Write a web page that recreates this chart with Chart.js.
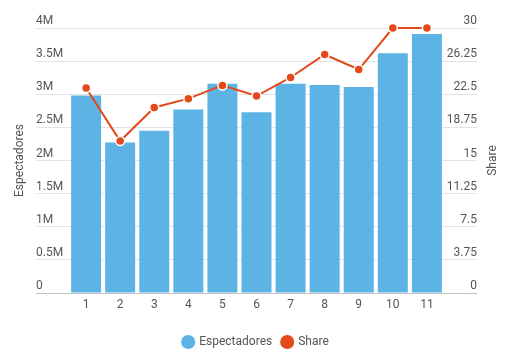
<!DOCTYPE html>
<html>
<head>
<meta charset="utf-8">
<title>Espectadores y Share</title>
<script src="https://cdn.jsdelivr.net/npm/chart.js@4.4.1/dist/chart.umd.min.js"></script>
<style>
    html, body { margin: 0; padding: 0; background: #fff; }
    #wrap { width: 512px; height: 362px; }
</style>
</head>
<body>
<div id="wrap"><canvas id="share-chart"></canvas></div>
<script>
    "use strict";

    const categories = ['1', '2', '3', '4', '5', '6', '7', '8', '9', '10', '11'];
    const viewers = [2980000, 2270000, 2450000, 2770000, 3160000, 2730000, 3160000, 3140000, 3110000, 3620000, 3910000];
    const share = [23.2, 17.2, 21.0, 22.0, 23.5, 22.3, 24.4, 27.0, 25.3, 30, 30];
    const leftTickLabels = ['0', '0.5M', '1M', '1.5M', '2M', '2.5M', '3M', '3.5M', '4M'];
    const rightTickLabels = ['0', '3.75', '7.5', '11.25', '15', '18.75', '22.5', '26.25', '30'];

    const textColor = '#555';
    const blue = '#5cb3e4';
    const red = '#e4491c';
    Chart.defaults.font.family = 'Roboto, sans-serif';
    Chart.defaults.font.size = 12;
    Chart.defaults.color = textColor;

    // x is a linear scale so the grid can run wider than the bars
    const points = (values) => values.map((v, i) => ({ x: i + 1, y: v }));

    const rightTitle = {
        id: 'rightTitle',
        afterDraw: function(chart) {
            const ctx = chart.ctx;
            const area = chart.chartArea;
            ctx.save();
            ctx.translate(493, (area.top + area.bottom) / 2);
            ctx.rotate(-Math.PI / 2);
            ctx.font = '12px Roboto, sans-serif';
            ctx.fillStyle = textColor;
            ctx.textAlign = 'center';
            ctx.textBaseline = 'middle';
            ctx.fillText('Share', 0, 0);
            ctx.restore();
        }
    };

    new Chart(document.getElementById('share-chart'), {
        type: 'bar',
        data: {
            datasets: [{
                label: 'Espectadores',
                data: points(viewers),
                backgroundColor: blue,
                borderWidth: 0,
                categoryPercentage: 0.88,
                barPercentage: 1,
                yAxisID: 'y',
                order: 2
            }, {
                type: 'line',
                label: 'Share',
                data: points(share),
                borderColor: red,
                backgroundColor: red,
                borderWidth: 2,
                tension: 0,
                pointRadius: 4.5,
                pointBorderWidth: 1.5,
                pointBorderColor: '#fff',
                pointBackgroundColor: red,
                clip: false,
                yAxisID: 'y1',
                order: 1
            }]
        },
        options: {
            responsive: true,
            maintainAspectRatio: false,
            animation: false,
            layout: { padding: { top: 28, bottom: 4 } },
            plugins: {
                tooltip: { enabled: false },
                legend: {
                    position: 'bottom',
                    labels: {
                        usePointStyle: true,
                        pointStyle: 'circle',
                        boxHeight: 10,
                        boxWidth: 10,
                        padding: 10,
                        color: textColor,
                        font: { size: 12 },
                        generateLabels: function(chart) {
                            return chart.data.datasets.map((ds, i) => ({
                                text: ds.label,
                                fillStyle: i === 0 ? blue : red,
                                strokeStyle: i === 0 ? blue : red,
                                lineWidth: 0,
                                pointStyle: 'circle',
                                fontColor: textColor,
                                datasetIndex: i
                            }));
                        }
                    }
                }
            },
            scales: {
                x: {
                    type: 'linear',
                    offset: false,
                    min: -0.47,
                    max: 12.47,
                    grid: { display: false, drawTicks: false },
                    border: { display: false },
                    afterBuildTicks: function(scale) {
                        scale.ticks = categories.map((c, i) => ({ value: i + 1 }));
                    },
                    afterFit: function(scale) { scale.height = 33; },
                    ticks: {
                        padding: 5,
                        autoSkip: false,
                        maxRotation: 0,
                        callback: (v) => categories[v - 1]
                    }
                },
                y: {
                    position: 'left',
                    min: 0,
                    max: 4000000,
                    afterFit: function(scale) { scale.width = 36; },
                    border: { display: false },
                    grid: {
                        drawTicks: false,
                        color: (c) => c.tick && c.tick.value === 0 ? '#c4c4c4' : '#e3e3e3'
                    },
                    ticks: {
                        stepSize: 500000,
                        mirror: true,
                        padding: 0,
                        labelOffset: -7,
                        callback: (v, i) => leftTickLabels[i]
                    },
                    title: {
                        display: true,
                        text: 'Espectadores',
                        color: textColor,
                        font: { size: 12 },
                        padding: { top: 13, bottom: 0 }
                    }
                },
                y1: {
                    position: 'right',
                    min: 0,
                    max: 30,
                    afterFit: function(scale) { scale.width = 35; },
                    border: { display: false },
                    grid: { display: false, drawTicks: false },
                    ticks: {
                        stepSize: 3.75,
                        mirror: true,
                        padding: 0,
                        labelOffset: -7,
                        callback: (v, i) => rightTickLabels[i]
                    }
                }
            }
        },
        plugins: [rightTitle]
    });
</script>
</body>
</html>
